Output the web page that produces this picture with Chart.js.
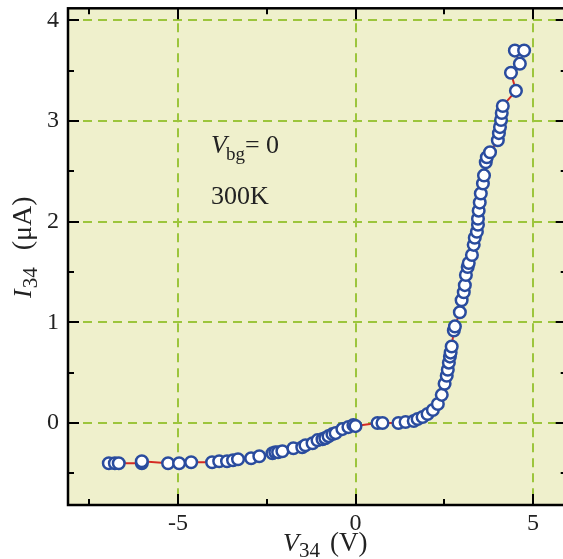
<!DOCTYPE html>
<html lang="en">
<head>
<meta charset="UTF-8">
<title>I-V curve</title>
<style>
  body { margin: 0; overflow: hidden; background: #fff; }
  canvas { display: block; }
</style>
</head>
<body>
<canvas id="myChart" width="575" height="559"></canvas>
<script src="https://cdn.jsdelivr.net/npm/chart.js"></script>
<script>
// measured points, in the order they are joined by the line
const voltage = [
  -6.95, -6.78, -6.67, -6.02, -6.02, -5.28, -4.97, -4.63, -4.04, -3.84,
  -3.62, -3.45, -3.31, -2.94, -2.71, -2.34, -2.26, -2.18, -2.06, -1.75,
  -1.50, -1.41, -1.21, -1.07, -0.93, -0.85, -0.76, -0.65, -0.56, -0.37,
  -0.20, -0.06, 0.00, 0.62, 0.76, 1.21, 1.41, 1.64, 1.75, 1.89,
  2.03, 2.18, 2.32, 2.43, 2.51, 2.57, 2.60, 2.63, 2.66, 2.68,
  2.71, 2.77, 2.80, 2.94, 2.99, 3.05, 3.08, 3.11, 3.16, 3.19,
  3.28, 3.33, 3.36, 3.42, 3.45, 3.45, 3.47, 3.50, 3.53, 3.59,
  3.62, 3.67, 3.70, 3.79, 4.01, 4.04, 4.07, 4.10, 4.12, 4.15,
  4.52, 4.38, 4.63, 4.49, 4.75
];
const current = [
  -0.40, -0.40, -0.40, -0.40, -0.38, -0.40, -0.40, -0.39, -0.39, -0.38,
  -0.38, -0.37, -0.36, -0.35, -0.33, -0.30, -0.29, -0.29, -0.28, -0.25,
  -0.24, -0.22, -0.20, -0.17, -0.16, -0.15, -0.13, -0.11, -0.10, -0.06,
  -0.04, -0.02, -0.03, 0.00, 0.00, 0.00, 0.01, 0.02, 0.04, 0.06,
  0.09, 0.13, 0.19, 0.28, 0.39, 0.47, 0.53, 0.60, 0.66, 0.70,
  0.76, 0.92, 0.96, 1.10, 1.22, 1.30, 1.37, 1.47, 1.55, 1.59,
  1.67, 1.77, 1.84, 1.90, 1.97, 2.03, 2.11, 2.19, 2.28, 2.38,
  2.46, 2.59, 2.64, 2.69, 2.81, 2.88, 2.94, 3.01, 3.08, 3.15,
  3.30, 3.48, 3.57, 3.70, 3.70
];
const xTicks = [-7.5, -5, -2.5, 0, 2.5, 5];
const yTicks = [-0.5, 0, 0.5, 1, 1.5, 2, 2.5, 3, 3.5, 4];

const points = voltage.map((v, i) => ({ x: v, y: current[i] }));

const serif = "'Liberation Serif', 'DejaVu Serif', serif";
const gridGreen = '#9cc53c';
const isMajorX = v => v % 5 === 0;
const isMajorY = v => Number.isInteger(v);

const framePlugin = {
  id: 'frame',
  beforeDraw(chart) {
    const { ctx, chartArea: a } = chart;
    ctx.save();
    ctx.fillStyle = '#eff0cc';
    ctx.fillRect(a.left, a.top, a.right - a.left, a.bottom - a.top);
    ctx.restore();
  },
  afterDraw(chart) {
    const { ctx, chartArea: a, scales } = chart;
    ctx.save();
    ctx.strokeStyle = '#000';
    ctx.lineWidth = 2;
    // inward ticks
    ctx.beginPath();
    xTicks.forEach(v => {
      const px = Math.round(scales.x.getPixelForValue(v));
      const len = isMajorX(v) ? 11 : 6;
      ctx.moveTo(px, a.bottom); ctx.lineTo(px, a.bottom - len);
      ctx.moveTo(px, a.top); ctx.lineTo(px, a.top + len);
    });
    yTicks.forEach(v => {
      const py = Math.round(scales.y.getPixelForValue(v));
      const len = isMajorY(v) ? 11 : 6;
      ctx.moveTo(a.left, py); ctx.lineTo(a.left + len, py);
      ctx.moveTo(a.right, py); ctx.lineTo(a.right - len, py);
    });
    ctx.stroke();
    ctx.lineWidth = 2.5;
    ctx.strokeRect(a.left, a.top, a.right - a.left, a.bottom - a.top);

    // text inside the plot
    ctx.fillStyle = '#222';
    ctx.textBaseline = 'alphabetic';
    let x = 211;
    ctx.font = 'italic 26px ' + serif;
    ctx.fillText('V', x, 153);
    x += ctx.measureText('V').width - 1;
    ctx.font = '19px ' + serif;
    ctx.fillText('bg', x, 160);
    x += ctx.measureText('bg').width;
    ctx.font = '26px ' + serif;
    ctx.fillText('= 0', x, 153);
    ctx.fillText('300K', 211, 204);

    // x axis title
    x = 283;
    ctx.font = 'italic 26px ' + serif;
    ctx.fillText('V', x, 551);
    x += ctx.measureText('V').width;
    ctx.font = '21px ' + serif;
    ctx.fillText('34', x, 557);
    ctx.font = '27px ' + serif;
    ctx.fillText('(V)', 330, 551);

    // y axis title, rotated
    ctx.translate(31, 298);
    ctx.rotate(-Math.PI / 2);
    x = 0;
    ctx.font = 'italic 26px ' + serif;
    ctx.fillText('I', x, 0);
    x += ctx.measureText('I').width + 1;
    ctx.font = '21px ' + serif;
    ctx.fillText('34', x, 6);
    x += ctx.measureText('34').width + 17;
    ctx.font = '28px ' + serif;
    ctx.fillText('(\u03bcA)', x, 0);
    ctx.restore();
  }
};

new Chart(document.getElementById('myChart'), {
  type: 'scatter',
  data: {
    datasets: [{
      data: points,
      showLine: true,
      borderColor: '#d42b24',
      borderWidth: 2,
      pointRadius: 5.8,
      pointBorderWidth: 2.5,
      pointBorderColor: '#2a4c9e',
      pointBackgroundColor: '#ffffff'
    }]
  },
  options: {
    responsive: false,
    animation: false,
    devicePixelRatio: 1,
    layout: { padding: { top: 8, right: 4, left: 0, bottom: 0 } },
    plugins: { legend: { display: false }, tooltip: { enabled: false } },
    scales: {
      x: {
        type: 'linear',
        min: -8.1,
        max: 5.95,
        afterBuildTicks: s => { s.ticks = xTicks.map(v => ({ value: v })); },
        afterFit: s => { s.height = 54; s.paddingLeft = 0; s.paddingRight = 0; },
        grid: {
          drawTicks: false,
          lineWidth: 2,
          color: c => (c.tick && isMajorX(c.tick.value) ? gridGreen : 'rgba(0,0,0,0)')
        },
        border: { display: false, dash: [9, 6] },
        ticks: {
          padding: 4,
          maxRotation: 0,
          autoSkip: false,
          color: '#222',
          font: { family: serif, size: 24 },
          callback: v => (isMajorX(v) ? String(v) : '')
        }
      },
      y: {
        type: 'linear',
        min: -0.814,
        max: 4.12,
        afterBuildTicks: s => { s.ticks = yTicks.map(v => ({ value: v })); },
        afterFit: s => { s.width = 68; s.paddingTop = 0; s.paddingBottom = 0; },
        grid: {
          drawTicks: false,
          lineWidth: 2,
          color: c => (c.tick && isMajorY(c.tick.value) ? gridGreen : 'rgba(0,0,0,0)')
        },
        border: { display: false, dash: [9, 6] },
        ticks: {
          padding: 9,
          autoSkip: false,
          color: '#222',
          font: { family: serif, size: 24 },
          callback: v => (isMajorY(v) ? String(v) : '')
        }
      }
    }
  },
  plugins: [framePlugin]
});
</script>
</body>
</html>
